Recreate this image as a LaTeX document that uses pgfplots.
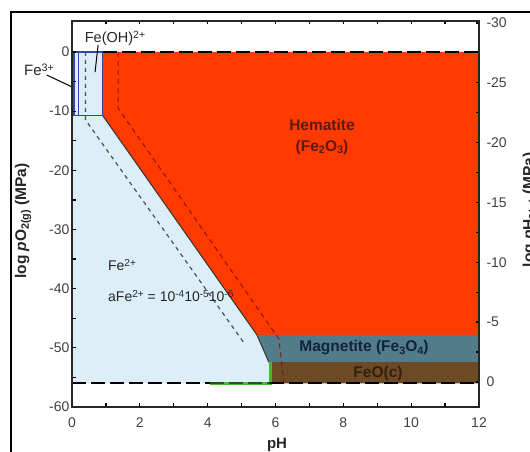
\documentclass[border=0pt]{standalone}
\usepackage{fontspec}
\setmainfont{Liberation Sans}
\usepackage{pgfplots}
\pgfplotsset{compat=1.18}
\definecolor{hem}{RGB}{255,58,0}
\definecolor{fe2}{RGB}{220,238,248}
\definecolor{mag}{RGB}{82,124,138}
\definecolor{feo}{RGB}{108,74,38}
\definecolor{bbox}{RGB}{50,70,170}
\definecolor{grn}{RGB}{70,185,50}
\definecolor{dgrn}{RGB}{30,90,20}
\definecolor{hemtxt}{RGB}{95,25,15}
\definecolor{magtxt}{RGB}{20,35,60}
\definecolor{feotxt}{RGB}{55,30,10}
\definecolor{dash1}{RGB}{70,80,90}
\definecolor{dash2}{RGB}{140,20,10}
\newcommand{\mysup}[1]{\raisebox{0.55ex}{\scalebox{0.72}{#1}}}
\newcommand{\mysub}[1]{\raisebox{-0.35ex}{\scalebox{0.7}{#1}}}
\begin{document}
\begin{tikzpicture}[x=1pt,y=1pt]
\useasboundingbox (0,0) rectangle (530,452);
\draw[line width=1.6pt] (10.8,0) -- (10.8,440) -- (532,440);
\begin{axis}[
  at={(72pt,45pt)}, anchor=south west, scale only axis,
  width=407pt, height=386pt,
  xmin=0, xmax=12, ymin=-60, ymax=5.24,
  axis on top, clip=false,
  xtick={0,2,...,12}, minor xtick={1,3,...,11},
  ytick={-60,-50,...,0}, minor ytick={-55,-45,...,-5},
  ytick pos=left, xtick pos=both,
  tick align=inside, major tick length=3.5pt, minor tick length=3.5pt,
  every tick/.append style={line width=1.3pt, black},
  every minor tick/.append style={line width=1.3pt, black},
  axis line style={line width=1.3pt, black!85},
  tick label style={font=\fontsize{14}{16}\selectfont, text=black!75},
  /pgf/number format/assume math mode=true,
  xticklabel style={yshift=-7pt},
  yticklabel style={xshift=1pt},
]
% Fe2+ field
\addplot[fill=fe2, draw=none] coordinates {(0,0) (0.9,0) (0.9,-10.7) (5.45,-47.8) (5.62,-50) (5.8,-52.4) (5.85,-56) (0,-56)};
% Hematite
\addplot[fill=hem, draw=none] coordinates {(0.9,0) (12,0) (12,-47.8) (5.45,-47.8) (0.9,-10.7)};
% Magnetite
\addplot[fill=mag, draw=none] coordinates {(5.45,-47.8) (12,-47.8) (12,-52.4) (5.8,-52.4) (5.62,-50)};
% FeO
\addplot[fill=feo, draw=none] coordinates {(5.8,-52.4) (12,-52.4) (12,-56) (5.85,-56)};
% boundary
\addplot[black!80, line width=1pt] coordinates {(0.9,-10.7) (5.45,-47.8) (5.62,-50) (5.8,-52.4)};
% blue boxes
\addplot[bbox, line width=1.2pt] coordinates {(0.06,0) (0.9,0) (0.9,-10.7) (0.06,-10.7) (0.06,0)};
\addplot[bbox, line width=1.2pt] coordinates {(0.18,0) (0.18,-10.7)};
% dashed activity lines
\addplot[dash1, line width=1.2pt, dash pattern=on 4pt off 4pt] coordinates {(0.4,0) (0.4,-11.5) (5.05,-49)};
\addplot[dash2, line width=1pt, dash pattern=on 5pt off 4pt] coordinates {(1.36,0) (1.36,-9.5) (6.1,-48.5) (6.25,-56)};
% green segment
\addplot[grn, line width=3.5pt] coordinates {(4.07,-56) (5.85,-56) (5.85,-52.4)};
% water stability lines
\addplot[black, line width=2.2pt, dash pattern=on 14pt off 5pt] coordinates {(0.9,0) (12,0)};
\addplot[black, line width=2.2pt, dash pattern=on 14pt off 5pt] coordinates {(0,-56) (4.07,-56)};
\addplot[dgrn, line width=2.2pt, dash pattern=on 14pt off 5pt] coordinates {(4.07,-56) (5.85,-56)};
\addplot[black, line width=2.2pt, dash pattern=on 14pt off 5pt] coordinates {(5.85,-56) (12,-56)};
% leader lines
\addplot[black, line width=1pt] coordinates {(-0.74,-3.9) (0,-5.9)};
\addplot[black, line width=1pt] coordinates {(0.77,1.2) (0.68,-3.4)};
\end{axis}
\begin{axis}[
  at={(72pt,45pt)}, anchor=south west, scale only axis,
  width=407pt, height=386pt,
  xmin=0, xmax=12, ymin=-30.16, ymax=2.09, y dir=reverse,
  hide x axis, axis y line*=right,
  ytick={-30,-25,...,0}, minor ytick={-27.5,-22.5,...,-2.5},
  tick align=inside, major tick length=3.5pt, minor tick length=3.5pt,
  every tick/.append style={line width=1.3pt, black},
  every minor tick/.append style={line width=1.3pt, black},
  axis line style={line width=1.3pt, black!85},
  tick label style={font=\fontsize{14}{16}\selectfont, text=black!75},
  /pgf/number format/assume math mode=true,
  yticklabel style={xshift=4pt},
]
\addplot[draw=none] coordinates {(0,0)};
\end{axis}
% labels
\node[font=\fontsize{15}{17}\selectfont, text=black!85] at (39,382) {Fe\mysup{3+}};
\node[font=\fontsize{14.5}{17}\selectfont, text=black!85] at (115,414) {Fe(OH)\mysup{2+}};
\node[font=\fontsize{14}{17}\selectfont, text=black!85] at (122,187) {Fe\mysup{2+}};
\node[font=\fontsize{14}{16}\selectfont, text=black!85, anchor=west, inner sep=0pt] at (108,156) {aFe\mysup{2+} = 10\mysup{-4}10\mysup{-5}10\mysup{-6}};
\node[font=\bfseries\fontsize{15.5}{17}\selectfont, text=hemtxt] at (322,327) {Hematite};
\node[font=\bfseries\fontsize{15.5}{17}\selectfont, text=hemtxt] at (322,305) {(Fe\mysub{2}O\mysub{3})};
\node[font=\bfseries\fontsize{15.5}{17}\selectfont, text=magtxt] at (364,104) {Magnetite (Fe\mysub{3}O\mysub{4})};
\node[font=\bfseries\fontsize{15.5}{17}\selectfont, text=feotxt] at (378,79) {FeO(c)};
\node[font=\bfseries\fontsize{15}{17}\selectfont, text=black!85] at (277,7) {pH};
\node[font=\bfseries\fontsize{15.5}{17}\selectfont, text=black!85, rotate=90] at (23,231) {log \textit{p}O\mysub{2(g)} (MPa)};
\node[font=\bfseries\fontsize{15.5}{17}\selectfont, text=black!85, rotate=90, anchor=north] at (519,242) {log \textit{p}H\mysub{2(g)} (MPa)};
\end{tikzpicture}
\end{document}
